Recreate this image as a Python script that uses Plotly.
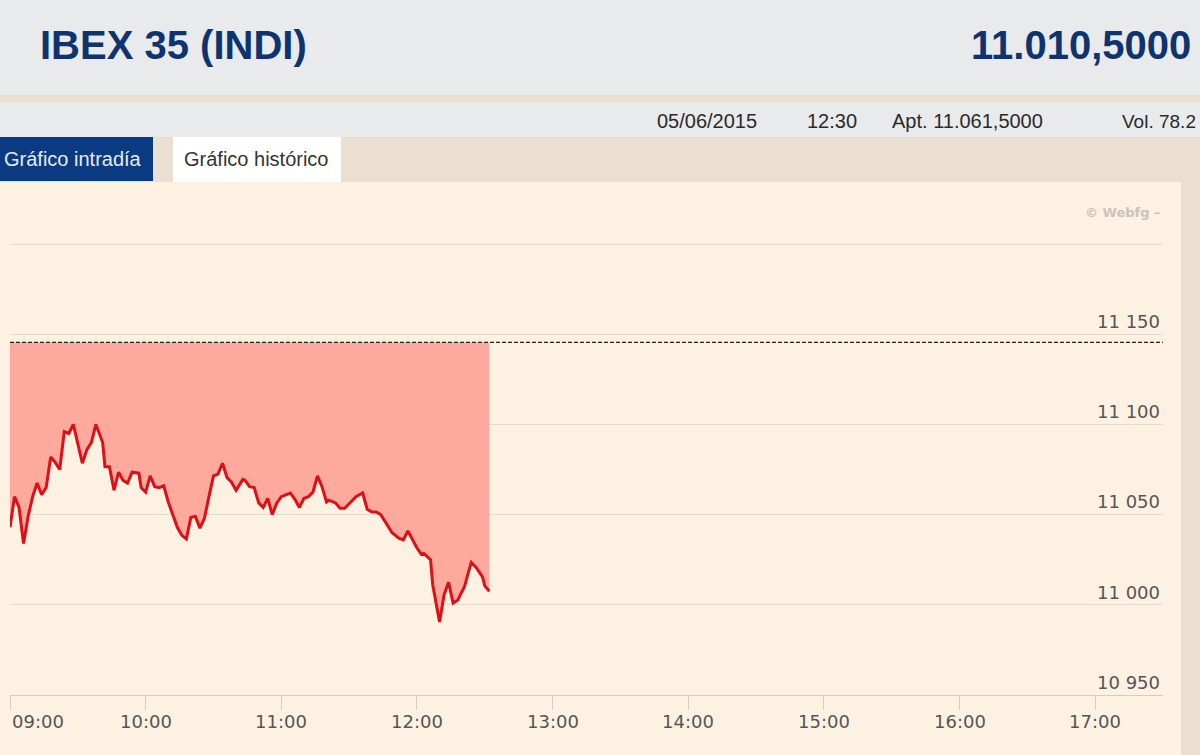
import plotly.graph_objects as go

# intraday IBEX 35, 05/06/2015
fecha = "2015-06-05"
horas = [
    "09:00", "09:02", "09:04", "09:06", "09:08", "09:10", "09:12", "09:14", "09:16", "09:18",
    "09:20", "09:22", "09:24", "09:26", "09:28", "09:32", "09:34", "09:36", "09:38", "09:41",
    "09:42", "09:44", "09:46", "09:48", "09:50", "09:52", "09:54", "09:57", "09:58", "10:00",
    "10:02", "10:04", "10:06", "10:08", "10:10", "10:12", "10:14", "10:16", "10:18", "10:20",
    "10:22", "10:24", "10:26", "10:28", "10:30", "10:32", "10:34", "10:36", "10:38", "10:40",
    "10:43", "10:44", "10:46", "10:48", "10:50", "10:52", "10:54", "10:56", "10:58", "11:00",
    "11:04", "11:06", "11:08", "11:10", "11:12", "11:14", "11:16", "11:18", "11:20", "11:21",
    "11:24", "11:26", "11:28", "11:30", "11:33", "11:36", "11:38", "11:40", "11:42", "11:44",
    "11:47", "11:49", "11:52", "11:54", "11:56", "11:58", "12:00", "12:02", "12:03", "12:06",
    "12:07", "12:10", "12:12", "12:14", "12:16", "12:18", "12:21", "12:24", "12:26", "12:29",
    "12:30", "12:32",
]
valores = [
    11043, 11060, 11054, 11034, 11049, 11060, 11067.5, 11061, 11065, 11082,
    11079, 11075, 11096, 11095, 11100, 11078.5, 11086, 11090, 11100, 11090,
    11076.5, 11076.5, 11063.5, 11073.5, 11069, 11067.5, 11073.5, 11073, 11065, 11062.5,
    11071.5, 11065.5, 11065, 11066, 11057, 11050, 11043, 11038.5, 11036.5, 11048.5,
    11049, 11042.5, 11048, 11060, 11071.5, 11072.5, 11078.5, 11070.5, 11068, 11063.5,
    11069.5, 11069, 11065.5, 11065, 11056.5, 11054, 11059, 11050, 11056.5, 11060,
    11062, 11058.5, 11054, 11059, 11060, 11062.5, 11071.5, 11065.5, 11057, 11058,
    11056.5, 11053.5, 11053.5, 11056, 11060, 11062, 11053, 11051.5, 11051.5, 11050,
    11044, 11040, 11037, 11036, 11041, 11036, 11031.5, 11028, 11028.5, 11025,
    11011, 10990.5, 11005.5, 11012.5, 11001, 11002.5, 11010, 11023.5, 11021, 11015.5,
    11010.5, 11007.5,
]
cierre_anterior = 11145.5

horas_eje = ["09:00", "10:00", "11:00", "12:00", "13:00", "14:00", "15:00", "16:00", "17:00"]
niveles = [10950, 11000, 11050, 11100, 11150, 11200]
etiquetas_niveles = ["10 950", "11 000", "11 050", "11 100", "11 150", ""]

x = [f"{fecha} {h}" for h in horas]

AZUL = "#0e3470"
CREMA = "#fdf1e2"
BEIGE = "#ebdfd1"
GRIS = "#e9eaec"

# plot area in pixels: x 10..1163, y 190..695
L, R, T, B = 10, 37, 190, 60
W, H = 1200, 755
pw, ph = W - L - R, H - T - B


def caja(x0, y0, x1, y1, color):
    # rectangle given in page pixels
    return dict(type="rect", xref="paper", yref="paper", layer="below",
                x0=(x0 - L) / pw, x1=(x1 - L) / pw,
                y0=(H - B - y0) / ph, y1=(H - B - y1) / ph,
                fillcolor=color, line=dict(width=0))


def texto(px, py, s, size, color, anchor="left", bold=False, family="Liberation Sans, Arial"):
    return dict(xref="paper", yref="paper", x=(px - L) / pw, y=(H - B - py) / ph,
                text=f"<b>{s}</b>" if bold else s, showarrow=False,
                xanchor=anchor, yanchor="middle",
                font=dict(size=size, color=color, family=family))


fig = go.Figure()
fig.add_trace(go.Scatter(
    x=[x[0], x[-1]], y=[cierre_anterior, cierre_anterior],
    mode="lines", line=dict(width=0), hoverinfo="skip", showlegend=False,
))
fig.add_trace(go.Scatter(
    x=x, y=valores, mode="lines",
    line=dict(color="#dc1016", width=3),
    fill="tonexty", fillcolor="#fea99d", showlegend=False,
))

shapes = [
    caja(0, 0, 1200, 95, GRIS),
    caja(0, 102, 1200, 137, GRIS),
    caja(0, 137, 153, 181, "#0a3a82"),
    caja(173, 137, 341, 182, "#ffffff"),
    caja(0, 182, 1181, 755, CREMA),
    dict(type="line", xref="paper", yref="y", x0=0, x1=1,
         y0=cierre_anterior, y1=cierre_anterior,
         line=dict(color="#222222", width=1.2, dash="4px,2px")),
]

anotaciones = [
    texto(38, 45, "IBEX 35 (INDI)", 40, AZUL, bold=True),
    texto(1193, 45, "11.010,5000", 40, AZUL, anchor="right", bold=True),
    texto(655, 121, "05/06/2015", 20, "#2a2a2a"),
    texto(805, 121, "12:30", 20, "#2a2a2a"),
    texto(890, 121, "Apt. 11.061,5000", 20, "#2a2a2a"),
    texto(1120, 121, "Vol. 78.2", 19, "#2a2a2a"),
    texto(2, 159, "Gráfico intradía", 20, "#e4ecf7"),
    texto(182, 159, "Gráfico histórico", 20, "#333333"),
    texto(1163, 212, "© Webfg –", 13, "#cbc3ba", anchor="right", bold=True,
          family="DejaVu Sans, Verdana"),
]
for i, h in enumerate(horas_eje):
    anotaciones.append(dict(
        x=f"{fecha} {h}", xref="x", y=0, yref="paper", yshift=-26,
        text=h, showarrow=False, xanchor="left" if i == 0 else "center",
        yanchor="middle", font=dict(size=18, color="#555555", family="DejaVu Sans"),
    ))

fig.update_layout(
    width=W, height=H,
    margin=dict(l=L, r=R, t=T, b=B),
    paper_bgcolor=BEIGE,
    plot_bgcolor="rgba(0,0,0,0)",
    shapes=shapes,
    annotations=anotaciones,
    hovermode=False,
)
fig.update_xaxes(
    type="date",
    range=[f"{fecha} 09:00", f"{fecha} 17:30"],
    tickvals=[f"{fecha} {h}" for h in horas_eje],
    showticklabels=False,
    ticks="outside", ticklen=14, tickcolor="#d3cdc6", tickwidth=1,
    showgrid=False, zeroline=False,
    showline=True, linecolor="#d3cdc6", linewidth=1,
)
fig.update_yaxes(
    range=[10950, 11230],
    side="right",
    tickvals=niveles, ticktext=etiquetas_niveles,
    ticklabelposition="inside top",
    tickfont=dict(size=18, color="#555555", family="DejaVu Sans"),
    showgrid=True, gridcolor="#e2dbd3", gridwidth=1,
    zeroline=False, showline=False, ticks="",
)

# page has a default 8px body margin; drop it so the figure fills the window
fig.write_html("out.html", config={"displayModeBar": False},
               post_script="document.body.style.margin='0';")
